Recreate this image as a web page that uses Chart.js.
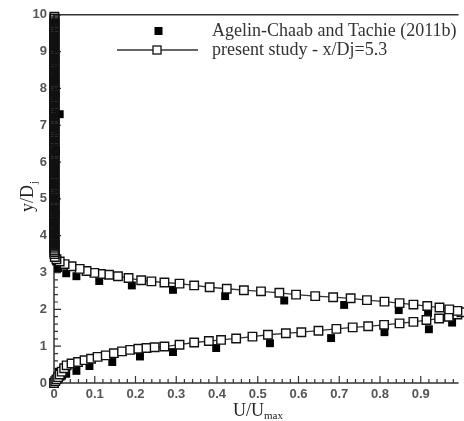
<!DOCTYPE html>
<html><head><meta charset="utf-8">
<script src="https://cdn.jsdelivr.net/npm/chart.js@4.4.0/dist/chart.umd.min.js"></script>
<style>html,body{margin:0;padding:0;background:#fff;overflow:hidden}#wrap{width:464px;height:421px}</style>
</head><body><div id="wrap"><canvas id="c" width="464" height="421"></canvas></div>
<script>
const xTickLabels = ['0','0.1','0.2','0.3','0.4','0.5','0.6','0.7','0.8','0.9'];
const yTickLabels = ['0','1','2','3','4','5','6','7','8','9','10'];
const seriesNames = ['Agelin-Chaab and Tachie (2011b)', 'present study - x/Dj=5.3'];

// experimental (filled squares)
const expU = [0.002,0.005,0.008,0.012,0.016,0.02,0.03,0.012,0.022,0.055,0.087,0.143,0.211,0.292,0.398,0.53,0.68,0.811,0.92,0.977,
              0.918,0.846,0.712,0.565,0.42,0.292,0.191,0.111,0.055,0.03,0.01,0.005,0.004,0.004,0.003,0.003,0.004,0.004,0.003,0.003,0.005,0.014,0.004,0.003,0.003,0.003,0.003];
const expY = [0.02,0.05,0.09,0.13,0.17,0.2,0.25,0.3,0.37,0.33,0.46,0.57,0.72,0.84,0.95,1.08,1.22,1.38,1.46,1.64,
              1.9,1.98,2.12,2.24,2.36,2.53,2.65,2.77,2.9,2.98,3.12,3.3,3.5,3.75,4.0,4.3,4.6,5.0,5.4,5.8,6.3,7.3,7.8,8.3,8.8,9.3,9.8];

// simulation (open squares + line)
const simU = [0,0.003,0.006,0.01,0.014,0.019,0.025,0.031,0.043,0.059,0.075,0.091,0.107,0.127,0.147,0.167,0.187,0.207,0.227,0.247,
              0.271,0.308,0.344,0.38,0.41,0.447,0.487,0.525,0.569,0.607,0.649,0.693,0.733,0.771,0.81,0.848,0.882,0.914,0.945,0.969,0.99,1.0,
              0.99,0.97,0.946,0.916,0.882,0.848,0.811,0.768,0.728,0.685,0.641,0.594,0.553,0.508,0.466,0.424,0.382,0.344,0.308,0.271,0.239,
              0.214,0.183,0.157,0.135,0.115,0.099,0.08,0.063,0.043,0.026,0.014,0.006,0.002,0.001];
const simY = [0,0.05,0.1,0.16,0.23,0.31,0.4,0.48,0.53,0.57,0.62,0.66,0.71,0.75,0.81,0.86,0.9,0.93,0.95,0.97,
              0.99,1.04,1.1,1.14,1.17,1.21,1.26,1.31,1.35,1.38,1.42,1.47,1.51,1.54,1.58,1.62,1.66,1.71,1.75,1.8,1.86,1.92,
              1.96,2.0,2.05,2.09,2.13,2.17,2.21,2.25,2.3,2.33,2.36,2.4,2.45,2.49,2.52,2.56,2.6,2.65,2.7,2.73,2.76,
              2.79,2.85,2.9,2.94,2.96,2.99,3.04,3.1,3.17,3.23,3.3,3.36,3.42,3.5];
// near-wall far-field simulation points (U ~ 0)
const simWallU = 0.001;
const simWallY = [3.55,3.6,3.65,3.7,3.75,3.8,3.85,3.9,3.95,4.0,4.05,4.1,4.15,4.2,4.25,4.3,4.35,4.4,4.45,4.5,
  4.55,4.6,4.65,4.7,4.75,4.8,4.85,4.9,4.95,5.0,5.05,5.1,5.15,5.2,5.25,5.3,5.35,5.4,5.45,5.5,
  5.55,5.6,5.65,5.7,5.75,5.8,5.85,5.9,5.95,6.0,6.05,6.1,6.15,6.2,6.25,6.3,6.35,6.4,6.45,6.5,
  6.55,6.6,6.65,6.7,6.75,6.8,6.85,6.9,6.95,7.0,7.05,7.1,7.15,7.2,7.25,7.3,7.35,7.4,7.45,7.5,
  7.55,7.6,7.65,7.7,7.75,7.8,7.85,7.9,7.95,8.0,8.05,8.1,8.15,8.2,8.25,8.3,8.35,8.4,8.45,8.5,
  8.55,8.6,8.65,8.7,8.75,8.8,8.85,8.9,8.95,9.0,9.05,9.1,9.15,9.2,9.25,9.3,9.35,9.4,9.45,9.5,
  9.55,9.6,9.65,9.7,9.75,9.8,9.85,9.9,9.95];

const expPts = expU.map((u, i) => ({x: u, y: expY[i]}));
const simPts = simU.map((u, i) => ({x: u, y: simY[i]})).concat(simWallY.map(y => ({x: simWallU, y})));

const AX = '#333';
const framePlugin = {
  id: 'frame',
  beforeDatasetsDraw(chart) {
    const {ctx, chartArea: a, scales: {x, y}} = chart;
    ctx.save();
    ctx.strokeStyle = AX; ctx.lineWidth = 1.5;
    ctx.beginPath();
    ctx.moveTo(a.left, a.top); ctx.lineTo(a.right + 2, a.top);
    ctx.moveTo(a.left, a.top); ctx.lineTo(a.left, a.bottom);
    ctx.lineTo(a.right + 2, a.bottom);
    ctx.stroke();
    ctx.lineWidth = 1.2;
    ctx.beginPath();
    for (let k = 0; k <= 50; k++) {
      const v = k * 0.02; if (v > x.max) break;
      const px = x.getPixelForValue(v);
      const len = (k % 5 === 0) ? 7 : 4;
      ctx.moveTo(px, a.bottom); ctx.lineTo(px, a.bottom - len);
    }
    for (let k = 0; k <= 50; k++) {
      const v = k * 0.2;
      const py = y.getPixelForValue(v);
      const len = (k % 5 === 0) ? 7 : 4;
      ctx.moveTo(a.left, py); ctx.lineTo(a.left + len, py);
    }
    ctx.stroke();
    ctx.restore();
  },
  afterDraw(chart) {
    const {ctx} = chart;
    ctx.save();
    ctx.fillStyle = '#222';
    // y title
    ctx.translate(33, 212);
    ctx.rotate(-Math.PI / 2);
    ctx.font = '18px "Liberation Serif"';
    ctx.textBaseline = 'alphabetic'; ctx.textAlign = 'left';
    ctx.fillText('y/D', 0, 0);
    const w1 = ctx.measureText('y/D').width;
    ctx.font = '11px "Liberation Serif"';
    ctx.fillText('j', w1 + 1, 4);
    ctx.restore();
    ctx.save();
    ctx.fillStyle = '#222';
    ctx.font = '18px "Liberation Serif"';
    ctx.fillText('U/U', 233, 416);
    const w2 = ctx.measureText('U/U').width;
    ctx.font = '11px "Liberation Serif"';
    ctx.fillText('max', 233 + w2, 419);
    // legend
    ctx.fillStyle = '#000';
    ctx.fillRect(154.5, 27, 8, 8);
    ctx.strokeStyle = AX; ctx.lineWidth = 1.5;
    ctx.beginPath(); ctx.moveTo(117, 50); ctx.lineTo(198, 50); ctx.stroke();
    ctx.fillStyle = '#fff';
    ctx.fillRect(153, 46, 8, 8);
    ctx.strokeStyle = '#222'; ctx.lineWidth = 1.4;
    ctx.strokeRect(153, 46, 8, 8);
    ctx.fillStyle = '#333';
    ctx.font = '18px "Liberation Serif"';
    ctx.textBaseline = 'middle';
    ctx.fillText(seriesNames[0], 212, 31);
    ctx.fillText(seriesNames[1], 212, 50);
    ctx.restore();
  }
};

new Chart(document.getElementById('c'), {
  type: 'scatter',
  data: {
    datasets: [
      { label: seriesNames[1], data: simPts, showLine: true, order: 0, clip: false,
        borderColor: '#333', borderWidth: 1.3, pointStyle: 'rect', pointRadius: 6,
        pointBorderWidth: 1.4, pointBorderColor: '#111',
        pointBackgroundColor: c => (c.raw && c.raw.y > 3.52) ? 'rgba(0,0,0,0)' : '#fff', tension: 0 },
      { label: seriesNames[0], data: expPts, showLine: false, order: 1, clip: false,
        pointStyle: 'rect', pointRadius: 5.6, pointBorderWidth: 0,
        pointBackgroundColor: '#000', pointBorderColor: '#000' }
    ]
  },
  options: {
    responsive: false, animation: false, devicePixelRatio: 1,
    layout: { padding: { top: 10, right: 0, left: 0, bottom: 0 } },
    plugins: { legend: { display: false }, tooltip: { enabled: false } },
    scales: {
      x: { type: 'linear', min: 0, max: 0.988,
        afterBuildTicks: s => { s.ticks = xTickLabels.map(l => ({value: parseFloat(l)})); },
        afterFit: s => { s.height = 38; },
        grid: { display: false, drawTicks: false }, border: { display: false },
        ticks: { padding: 4, color: '#555', font: { family: 'Liberation Sans', size: 13, weight: 'bold' },
          callback: (v, i) => xTickLabels[i], maxRotation: 0, autoSkip: false } },
      y: { type: 'linear', min: 0, max: 10,
        afterBuildTicks: s => { s.ticks = yTickLabels.map(l => ({value: parseFloat(l)})); },
        afterFit: s => { s.width = 54; },
        grid: { display: false, drawTicks: false }, border: { display: false },
        ticks: { padding: 7, color: '#555', font: { family: 'Liberation Sans', size: 13, weight: 'bold' },
          callback: (v, i) => yTickLabels[i], autoSkip: false } }
    }
  },
  plugins: [framePlugin]
});
</script></body></html>
